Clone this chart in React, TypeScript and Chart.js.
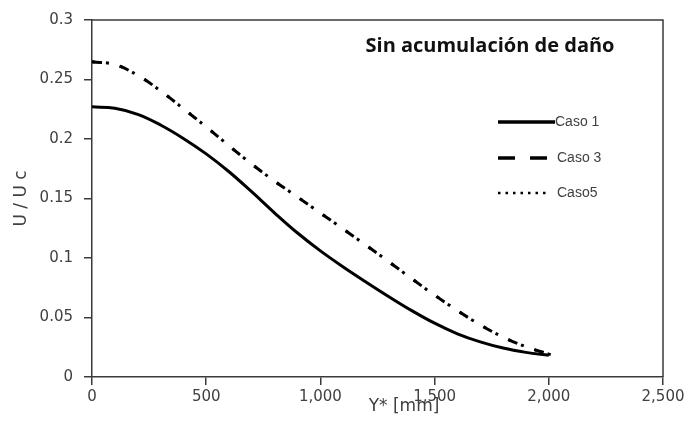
import React, { useEffect, useRef } from "react";
import { Chart, registerables } from "chart.js";

Chart.register(...registerables);

const chartTitle = "Sin acumulación de daño";
const xTitle = "Y* [mm]";
const yTitle = "U / U c";
const seriesNames = ["Caso 1", "Caso 3", "Caso5"];

const caso1X = [0, 100, 200, 300, 400, 500, 600, 700, 800, 900, 1000, 1100, 1200, 1300, 1400, 1500, 1600, 1700, 1800, 1900, 2000];
const caso1Y = [0.227, 0.2258, 0.2207, 0.2118, 0.2005, 0.1875, 0.1725, 0.1555, 0.1378, 0.121, 0.106, 0.0925, 0.0798, 0.0675, 0.0558, 0.0452, 0.0363, 0.0295, 0.0243, 0.0207, 0.0182];

const caso3X = [0, 100, 200, 300, 400, 500, 600, 700, 800, 900, 1000, 1100, 1200, 1300, 1400, 1500, 1600, 1700, 1800, 1900, 2000];
const caso3Y = [0.265, 0.2625, 0.2535, 0.2405, 0.2255, 0.2102, 0.1943, 0.1788, 0.1645, 0.1512, 0.1378, 0.1243, 0.1107, 0.0968, 0.0826, 0.0688, 0.0558, 0.0438, 0.0335, 0.0255, 0.0192];

const caso5X = [0, 100, 200, 300, 400, 500, 600, 700, 800, 900, 1000, 1100, 1200, 1300, 1400, 1500, 1600, 1700, 1800, 1900, 2000, 2050];
const caso5Y = [0.265, 0.2625, 0.2535, 0.2405, 0.2255, 0.2102, 0.1943, 0.1788, 0.1645, 0.1512, 0.1378, 0.1243, 0.1107, 0.0968, 0.0826, 0.0688, 0.0558, 0.0438, 0.0335, 0.0255, 0.0192, 0.0178];

const xMin = 0, xMax = 2500, xStep = 500;
const yMin = 0, yMax = 0.3, yStep = 0.05;

const toPoints = (xs: number[], ys: number[]) => xs.map((x, i) => ({ x, y: ys[i] }));

const AXIS = "#3a3a3a";
const TEXT = "#404040";

const overlayPlugin = {
  id: "overlay",
  afterDraw(chart: any) {
    const { ctx, chartArea } = chart;
    const { left, top, right, bottom } = chartArea;
    ctx.save();
    // frame
    ctx.strokeStyle = AXIS;
    ctx.lineWidth = 1.5;
    ctx.beginPath();
    ctx.moveTo(left, top);
    ctx.lineTo(right, top);
    ctx.lineTo(right, bottom);
    ctx.stroke();

    // title inside plot
    ctx.fillStyle = "#111";
    ctx.font = "bold 20px 'Open Sans'";
    ctx.textAlign = "center";
    ctx.textBaseline = "middle";
    ctx.fillText(chartTitle, left + 398, top + 26);

    // x axis title
    ctx.fillStyle = TEXT;
    ctx.font = "17px 'DejaVu Sans'";
    ctx.fillText(xTitle, left + 312, bottom + 30);

    // legend
    const lx0 = left + 406;
    const rows = [top + 102, top + 138, top + 173];
    const styles = [
      { dash: [], width: 3.5, end: 463 },
      { dash: [17, 15], width: 3.5, end: 456 },
      { dash: [2.5, 5], width: 2.5, end: 454 },
    ];
    ctx.font = "14px 'Liberation Sans'";
    ctx.textAlign = "left";
    rows.forEach((y, i) => {
      const st = styles[i];
      ctx.strokeStyle = "#000";
      ctx.lineWidth = st.width;
      ctx.setLineDash(st.dash);
      ctx.beginPath();
      ctx.moveTo(lx0, y);
      ctx.lineTo(left + st.end, y);
      ctx.stroke();
      ctx.setLineDash([]);
      ctx.fillStyle = TEXT;
      ctx.fillText(seriesNames[i], left + (i === 0 ? 463 : 465), y);
    });
    ctx.restore();
  },
};

export default function App() {
  const ref = useRef<HTMLCanvasElement | null>(null);
  useEffect(() => {
    if (!ref.current) return;
    const chart = new Chart(ref.current, {
      type: "line",
      data: {
        datasets: [
          {
            label: seriesNames[0],
            data: toPoints(caso1X, caso1Y),
            borderColor: "#000",
            borderWidth: 3,
            pointRadius: 0,
            tension: 0.4,
          },
          {
            label: seriesNames[1],
            data: toPoints(caso3X, caso3Y),
            borderColor: "#000",
            borderWidth: 3,
            borderDash: [10, 18],
            pointRadius: 0,
            tension: 0.4,
          },
          {
            label: seriesNames[2],
            data: toPoints(caso5X, caso5Y),
            borderColor: "#000",
            borderWidth: 3,
            borderDash: [3, 11],
            pointRadius: 0,
            tension: 0.4,
          },
        ],
      },
      options: {
        animation: false,
        responsive: false,
        maintainAspectRatio: false,
        layout: { padding: { left: 0, right: 25, top: 20, bottom: 0 } },
        plugins: { legend: { display: false }, tooltip: { enabled: false } },
        scales: {
          x: {
            type: "linear",
            min: xMin,
            max: xMax,
            afterFit: (s: any) => { s.height = 46; },
            ticks: {
              stepSize: xStep,
              color: TEXT,
              font: { family: "'DejaVu Sans'", size: 15 },
              padding: 3,
              maxRotation: 0,
            },
            grid: { display: true, drawOnChartArea: false, drawTicks: true, tickLength: 8, color: AXIS, lineWidth: 1.5 },
            border: { display: true, color: AXIS, width: 1.5 },
          },
          y: {
            type: "linear",
            min: yMin,
            max: yMax,
            afterFit: (s: any) => { s.width = 92; },
            ticks: {
              stepSize: yStep,
              color: TEXT,
              font: { family: "'DejaVu Sans'", size: 15 },
              padding: 11,
              callback: (v: any) => String(Number(Number(v).toFixed(2))),
            },
            grid: { display: true, drawOnChartArea: false, drawTicks: true, tickLength: 8, color: AXIS, lineWidth: 1.5 },
            border: { display: true, color: AXIS, width: 1.5 },
            title: {
              display: true,
              text: yTitle,
              color: TEXT,
              font: { family: "'DejaVu Sans'", size: 17 },
              padding: { top: 11, bottom: 0 },
            },
          },
        },
      },
      plugins: [overlayPlugin],
    } as any);
    return () => chart.destroy();
  }, []);

  return (
    <div style={{ position: "fixed", left: 0, top: 0, width: 688, height: 423, background: "#fff" }}>
      <canvas ref={ref} width={688} height={423} style={{ display: "block", width: 688, height: 423 }} />
    </div>
  );
}
